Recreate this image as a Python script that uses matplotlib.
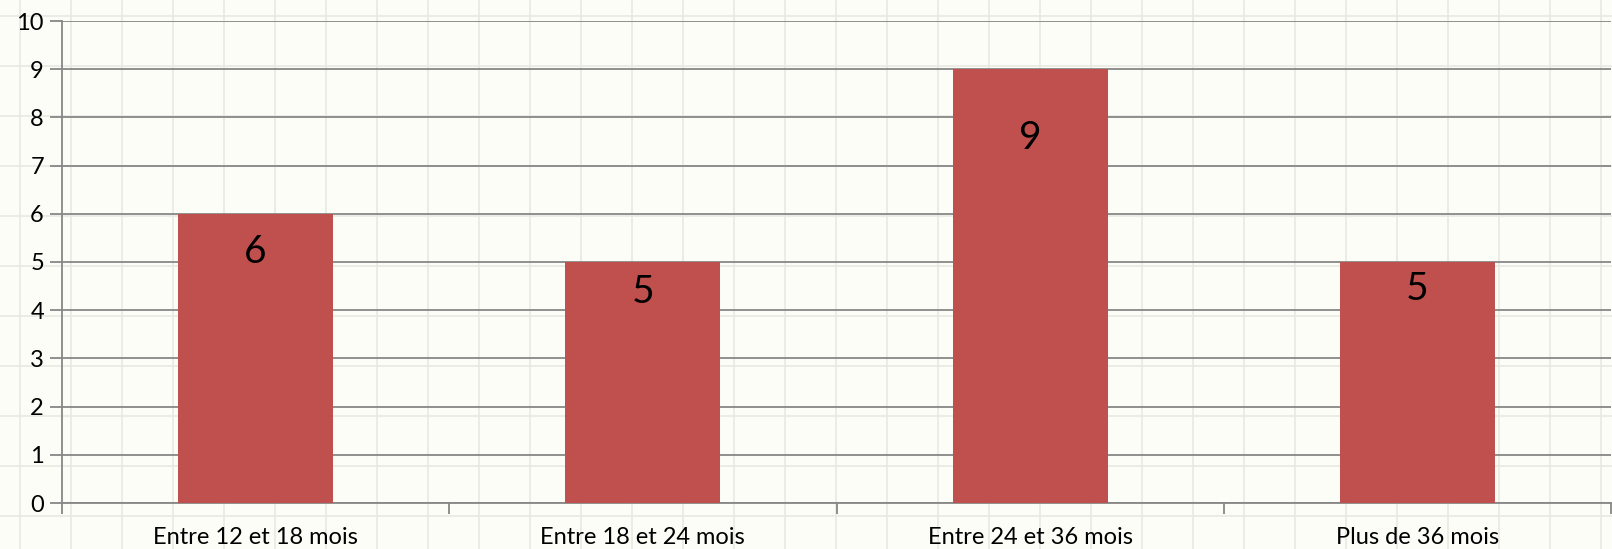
import matplotlib
matplotlib.use("Agg")
import matplotlib.pyplot as plt
from matplotlib.lines import Line2D

categories = ["Entre 12 et 18 mois", "Entre 18 et 24 mois", "Entre 24 et 36 mois", "Plus de 36 mois"]
values = [6, 5, 9, 5]
yticks = list(range(0, 11))

# label placement (pixels below bar top), as in the original
label_offsets = [38, 30, 69, 27]

W, H = 1612, 549
fig = plt.figure(figsize=(W / 100, H / 100), dpi=100)
fig.patch.set_facecolor("#FDFDF8")
plt.rcParams['font.family'] = ['Lato', 'DejaVu Sans']

# faint graph-paper background
for x in range(20, W, 51):
    fig.add_artist(Line2D([x / W, x / W], [0, 1], color="#E9E9E4", lw=1.2, zorder=0))
for y in range(16, H, 50):
    fig.add_artist(Line2D([0, 1], [1 - y / H, 1 - y / H], color="#E9E9E4", lw=1.2, zorder=0))

ax = fig.add_axes([62 / W, 1 - 503 / H, (1611 - 62) / W, (503 - 21) / H])
ax.set_facecolor("none")
x = list(range(len(categories)))
bars = ax.bar(x, values, width=0.40, color="#C0504D", zorder=3)
ax.set_xlim(-0.5, len(categories) - 0.5)
ax.set_ylim(0, 10)
ax.set_yticks(yticks)
ax.yaxis.grid(True, color="#878787", lw=1.3, zorder=1)
ax.set_axisbelow(True)
for s in ["top", "right"]:
    ax.spines[s].set_visible(False)
for s in ["left", "bottom"]:
    ax.spines[s].set_color("#878787")
    ax.spines[s].set_linewidth(1.3)
ax.tick_params(axis="y", length=9, width=1.3, color="#878787", labelsize=17, pad=4)
ax.set_xticks(x)
ax.set_xticklabels(categories)
ax.tick_params(axis="x", length=0, labelsize=17, pad=17)
# category boundary ticks
ax.set_xticks([i - 0.5 for i in range(len(categories) + 1)], minor=True)
ax.tick_params(axis="x", which="minor", length=8, width=1.3, color="#878787")

for b, v, off in zip(bars, values, label_offsets):
    ax.annotate(str(v), (b.get_x() + b.get_width() / 2, v), xytext=(0, -off),
                textcoords="offset pixels", ha="center", va="center", fontsize=28,
                color="black", zorder=4)

fig.savefig("out.png", dpi=100, facecolor=fig.get_facecolor())
